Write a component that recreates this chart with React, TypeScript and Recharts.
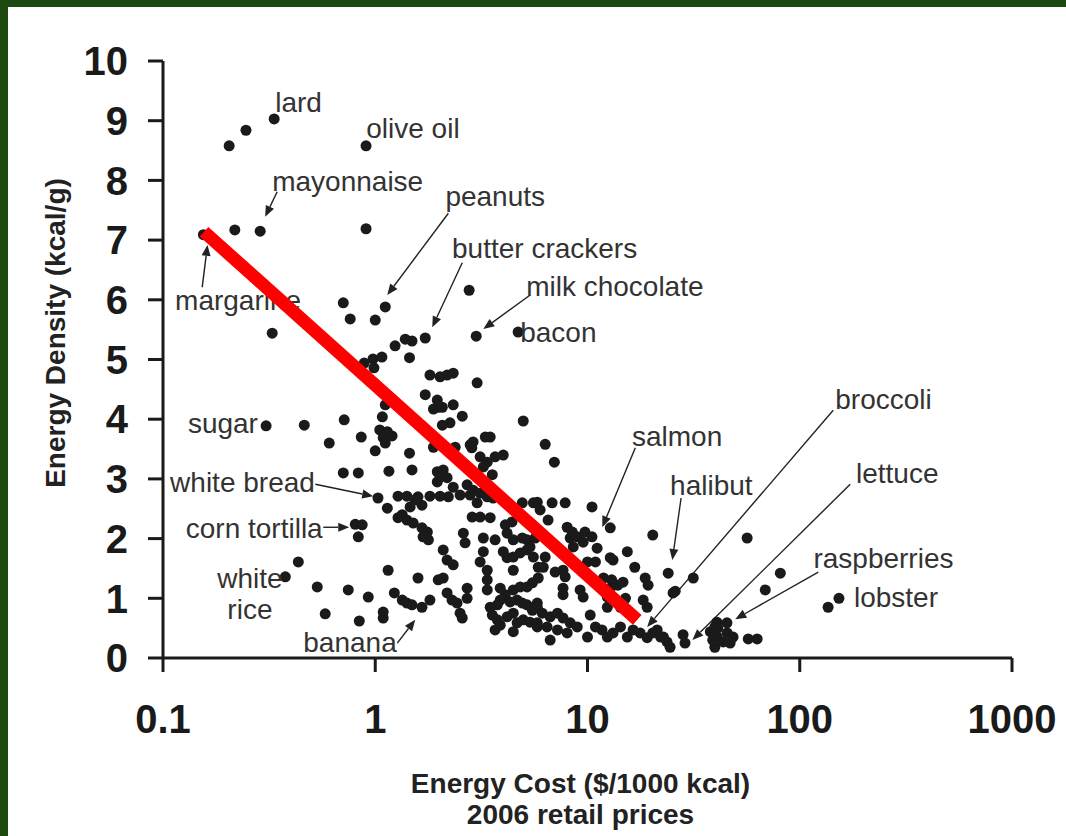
import React from 'react';
import { ScatterChart, Scatter, XAxis, YAxis, ReferenceLine } from 'recharts';

// Axis ticks
const costTicks = [0.1, 1, 10, 100, 1000];
const densityTicks = [0, 1, 2, 3, 4, 5, 6, 7, 8, 9, 10];

// Foods: [energy cost ($/1000 kcal), energy density (kcal/g)]
const fatsAndOils: [number, number][] = [
  [0.155, 7.09], [0.205, 8.58], [0.246, 8.84], [0.334, 9.03], [0.218, 7.17], [0.287, 7.15],
  [0.905, 8.58], [0.905, 7.19], [0.707, 5.95], [0.762, 5.68], [1.0, 5.66], [1.115, 5.88],
  [2.77, 6.16], [0.327, 5.44], [2.99, 5.39], [4.71, 5.46], [0.306, 3.89], [0.463, 3.9],
  [4.98, 3.97], [1.03, 2.68],
];

const snacksAndGrains: [number, number][] = [
  [1.385, 5.34], [1.49, 5.31], [1.72, 5.36], [1.24, 5.23], [1.45, 5.03], [0.887, 4.94],
  [0.976, 5.01], [1.075, 5.04], [0.986, 4.86], [1.81, 4.74], [2.02, 4.71], [2.18, 4.74],
  [2.33, 4.77], [3.02, 4.61], [1.72, 4.41], [1.96, 4.32], [1.98, 4.2], [1.88, 4.17],
  [2.07, 4.2], [2.33, 4.24], [2.57, 4.05], [2.25, 3.94], [2.07, 3.9], [0.714, 3.99],
  [1.08, 4.04], [1.115, 4.24], [0.859, 3.7], [1.05, 3.82], [1.14, 3.79], [1.2, 3.72],
  [1.09, 3.69], [1.115, 3.6], [1.0, 3.47], [1.45, 3.43], [1.88, 3.53], [2.38, 3.53],
  [2.8, 3.57], [2.89, 3.62], [2.85, 3.52], [3.3, 3.7], [3.48, 3.7], [4.01, 3.4],
  [3.67, 3.37], [3.12, 3.37], [3.37, 3.28], [3.23, 3.2], [3.56, 3.07], [0.607, 3.6],
  [0.707, 3.1], [0.832, 3.1], [1.16, 3.13], [1.49, 3.15], [1.96, 3.12], [2.09, 3.15],
  [2.02, 3.03], [1.96, 2.95], [2.18, 3.02], [2.33, 2.86], [2.71, 2.9], [2.89, 2.81],
  [2.8, 2.73], [1.28, 2.71], [1.41, 2.71], [1.59, 2.7], [1.81, 2.71], [2.02, 2.71],
  [2.21, 2.7], [2.51, 2.73], [3.12, 2.76], [3.37, 2.7], [6.32, 3.58], [6.98, 3.28],
];

const mixedFoods: [number, number][] = [
  [1.14, 2.51], [1.54, 2.65], [1.66, 2.56], [1.46, 2.53], [1.34, 2.4], [1.41, 2.31],
  [1.51, 2.26], [1.76, 2.11], [1.78, 1.98], [1.28, 2.35], [1.66, 2.18], [1.68, 2.03],
  [3.02, 2.6], [3.59, 2.68], [2.86, 2.36], [3.12, 2.36], [3.48, 2.35], [2.6, 2.09],
  [2.65, 1.93], [3.23, 2.01], [3.67, 1.98], [4.18, 2.09], [4.47, 1.98], [4.93, 2.01],
  [5.19, 1.98], [4.93, 2.6], [5.56, 2.6], [4.1, 2.23], [4.41, 2.28], [4.01, 1.78],
  [4.18, 1.68], [4.47, 1.69], [4.82, 1.76], [5.19, 1.81], [3.23, 1.78], [2.09, 1.81],
  [2.18, 1.64], [2.33, 1.56], [3.12, 1.61], [3.37, 1.47], [4.47, 1.47], [5.36, 1.86],
  [5.56, 1.69], [1.15, 1.47], [1.59, 1.34], [1.98, 1.31], [2.09, 1.34], [0.746, 1.14],
  [0.927, 1.02], [1.23, 1.09], [1.34, 0.97], [1.41, 0.92], [1.49, 0.89], [1.66, 0.85],
  [1.81, 0.97], [1.09, 0.77], [1.09, 0.67], [0.841, 0.62], [2.18, 1.09], [2.3, 0.97],
  [2.43, 0.92], [2.71, 1.0], [2.71, 1.17], [2.51, 0.75], [2.57, 0.67], [3.37, 1.31],
  [3.37, 1.14], [3.88, 1.17], [4.1, 1.06], [3.88, 0.97], [4.32, 0.94], [3.76, 0.89],
  [3.48, 0.85], [3.56, 0.72], [3.76, 0.64], [3.88, 0.55], [4.18, 0.69], [4.47, 1.14],
  [4.82, 1.19], [5.19, 1.19], [5.5, 1.26], [4.66, 0.97], [4.93, 0.92], [5.19, 0.89],
  [5.5, 0.8], [5.8, 0.92], [4.47, 0.75], [4.66, 0.59], [4.98, 0.64], [5.36, 0.6],
  [5.8, 0.52], [4.47, 0.44], [3.67, 0.47], [5.86, 1.52], [5.86, 1.34],
  [0.805, 2.24], [0.868, 2.23], [0.832, 2.03], [0.434, 1.61], [0.377, 1.36], [0.533, 1.19],
  [0.581, 0.74],
];

const produceAndProtein: [number, number][] = [
  [5.8, 2.61], [5.98, 2.48], [6.81, 2.6], [7.85, 2.6], [10.5, 2.53], [6.52, 2.31],
  [5.67, 2.01], [8.02, 2.19], [8.48, 2.11], [8.29, 2.01], [8.95, 2.03], [9.73, 2.11],
  [9.54, 1.94], [10.5, 2.03], [11.1, 1.84], [8.57, 1.86], [12.8, 2.18], [6.32, 1.69],
  [6.19, 1.52], [7.67, 1.47], [7.85, 1.36], [7.04, 1.44], [10.0, 1.61], [10.9, 1.61],
  [12.8, 1.68], [15.4, 1.78], [16.7, 1.52], [20.3, 2.06], [11.9, 1.34], [13.0, 1.31],
  [13.9, 1.22], [14.7, 1.27], [12.8, 1.17], [18.7, 1.34], [19.3, 1.22], [18.3, 0.97],
  [19.1, 0.85], [15.1, 1.0], [7.67, 1.17], [7.67, 1.06], [9.23, 1.14], [9.54, 1.02],
  [12.4, 0.85], [14.3, 0.85], [10.3, 0.72], [25.3, 1.09], [13.2, 1.64], [12.4, 1.02],
  [5.8, 0.85], [6.12, 0.75], [6.67, 0.69], [7.22, 0.75], [7.67, 0.67], [8.29, 0.59],
  [8.95, 0.52], [5.8, 0.59], [6.45, 0.52], [7.22, 0.47], [8.02, 0.42], [6.67, 0.3],
  [10.0, 0.35], [10.9, 0.52], [11.7, 0.47], [12.4, 0.35], [13.2, 0.42], [14.3, 0.52],
  [15.4, 0.35], [16.4, 0.47], [17.7, 0.42], [19.1, 0.34], [20.3, 0.42], [22.1, 0.35],
  [23.7, 0.27], [24.5, 0.18], [28.2, 0.39], [28.8, 0.25], [37.9, 0.44], [39.8, 0.52],
  [40.9, 0.35], [45.5, 0.42], [43.6, 0.27],
  [136, 0.85], [153, 1.0], [81, 1.42], [68.8, 1.14], [56.5, 2.01], [63, 0.32],
  [57.2, 0.32], [48.5, 0.35], [47, 0.25], [40.7, 0.6], [45.4, 0.59], [41.1, 0.5],
  [38.9, 0.3], [39.8, 0.18], [31.5, 1.34], [25.9, 1.12], [24, 1.42], [21.3, 0.47],
  [22.8, 0.35],
];

// Food names, anchored at the start of the text baseline
const foodLabels = [
  { name: 'lard', cost: 0.338, density: 9.15 },
  { name: 'olive oil', cost: 0.907, density: 8.71 },
  { name: 'mayonnaise', cost: 0.327, density: 7.82 },
  { name: 'peanuts', cost: 2.14, density: 7.57 },
  { name: 'butter crackers', cost: 2.3, density: 6.7 },
  { name: 'milk chocolate', cost: 5.14, density: 6.06 },
  { name: 'bacon', cost: 4.82, density: 5.29 },
  { name: 'margarine', cost: 0.114, density: 5.83 },
  { name: 'sugar', cost: 0.131, density: 3.77 },
  { name: 'white bread', cost: 0.108, density: 2.78 },
  { name: 'corn tortilla', cost: 0.128, density: 2.01 },
  { name: 'white', cost: 0.18, density: 1.17 },
  { name: 'rice', cost: 0.201, density: 0.66 },
  { name: 'banana', cost: 0.458, density: 0.1 },
  { name: 'salmon', cost: 16.2, density: 3.55 },
  { name: 'halibut', cost: 24.5, density: 2.73 },
  { name: 'broccoli', cost: 147, density: 4.17 },
  { name: 'lettuce', cost: 184, density: 2.93 },
  { name: 'raspberries', cost: 116, density: 1.51 },
  { name: 'lobster', cost: 180, density: 0.85 },
];

// Leader arrows: [cost, density] of tail and head
const labelArrows: { from: [number, number]; to: [number, number] }[] = [
  { from: [0.345, 7.81], to: [0.303, 7.39] },
  { from: [0.153, 6.21], to: [0.162, 6.92] },
  { from: [2.21, 7.45], to: [1.139, 6.08] },
  { from: [2.57, 6.62], to: [1.856, 5.54] },
  { from: [5.37, 6.08], to: [3.23, 5.51] },
  { from: [0.522, 2.91], to: [0.978, 2.71] },
  { from: [0.569, 2.19], to: [0.754, 2.19] },
  { from: [1.27, 0.25], to: [1.543, 0.64] },
  { from: [16.8, 3.52], to: [11.74, 2.19] },
  { from: [27.6, 2.68], to: [25.1, 1.64] },
  { from: [143.8, 4.15], to: [19.1, 0.52] },
  { from: [172.9, 2.91], to: [31.2, 0.3] },
  { from: [122.3, 1.44], to: [49.7, 0.65] },
];

// Trend line endpoints
const trendLine = [
  { cost: 0.156, density: 7.14 },
  { cost: 17.15, density: 0.64 },
];

const toPoints = (rows: [number, number][]) => rows.map(([cost, density]) => ({ cost, density }));
const foodPoints = [
  ...toPoints(fatsAndOils),
  ...toPoints(snacksAndGrains),
  ...toPoints(mixedFoods),
  ...toPoints(produceAndProtein),
];

const FONT = '"Liberation Sans", Arial, Helvetica, sans-serif';
const INK = '#1a1a1a';

const FoodDot = (p: any) => <circle cx={p.cx} cy={p.cy} r={5.5} fill={INK} />;

const FoodName = (p: any) => (
  <text x={p.cx} y={p.cy} fontSize={28} fill="#333" fontFamily={FONT}>
    {p.payload.name}
  </text>
);

const NoMark = () => <g />;

const ArrowShape = (p: any) => {
  const { x1, y1, x2, y2 } = p;
  const ang = Math.atan2(y2 - y1, x2 - x1);
  const len = 11;
  const half = 4.5;
  const bx = x2 - len * Math.cos(ang);
  const by = y2 - len * Math.sin(ang);
  const nx = -Math.sin(ang) * half;
  const ny = Math.cos(ang) * half;
  return (
    <g>
      <line x1={x1} y1={y1} x2={bx} y2={by} stroke="#222" strokeWidth={1.4} />
      <polygon points={`${x2},${y2} ${bx + nx},${by + ny} ${bx - nx},${by - ny}`} fill="#222" />
    </g>
  );
};

const XTitle = ({ viewBox }: any) => {
  const cx = viewBox.x + viewBox.width / 2 - 7;
  return (
    <text textAnchor="middle" fontSize={28} fontWeight={700} fill="#222" fontFamily={FONT}>
      <tspan x={cx} y={viewBox.y + 135}>Energy Cost ($/1000 kcal)</tspan>
      <tspan x={cx} y={viewBox.y + 166}>2006 retail prices</tspan>
    </text>
  );
};

const YTitle = () => (
  <text
    transform="translate(65, 333) rotate(-90)"
    textAnchor="middle"
    fontSize={28}
    fontWeight={700}
    fill="#222"
    fontFamily={FONT}
  >
    Energy Density (kcal/g)
  </text>
);

export default function App() {
  return (
    <div style={{ position: 'absolute', left: 0, top: 0, width: 1066, height: 836, background: '#1d4a0e' }}>
      <div style={{ position: 'absolute', left: 8, top: 7, width: 1058, height: 829, background: '#ffffff' }} />
      <div style={{ position: 'absolute', left: 0, top: 0 }}>
        <ScatterChart width={1066} height={836} margin={{ top: 61, right: 54, bottom: 8, left: 33 }}>
          <XAxis
            type="number"
            dataKey="cost"
            scale="log"
            domain={[0.1, 1000]}
            ticks={costTicks}
            interval={0}
            allowDataOverflow
            height={170}
            tickSize={14}
            tickMargin={33}
            axisLine={{ stroke: INK, strokeWidth: 3 }}
            tickLine={{ stroke: INK, strokeWidth: 3 }}
            tick={{ fontSize: 40, fontWeight: 700, fill: INK, fontFamily: FONT }}
            tickFormatter={(v: number) => String(v)}
            label={XTitle}
          />
          <YAxis
            type="number"
            dataKey="density"
            domain={[0, 10]}
            ticks={densityTicks}
            interval={0}
            width={130}
            tickSize={15}
            tickMargin={20}
            axisLine={{ stroke: INK, strokeWidth: 3 }}
            tickLine={{ stroke: INK, strokeWidth: 3 }}
            tick={{ fontSize: 40, fontWeight: 700, fill: INK, fontFamily: FONT }}
            label={YTitle}
          />
          <Scatter data={foodPoints} shape={FoodDot} isAnimationActive={false} />
          <Scatter data={foodLabels} shape={FoodName} isAnimationActive={false} />
          {labelArrows.map((a, i) => (
            <ReferenceLine
              key={i}
              segment={[
                { x: a.from[0], y: a.from[1] },
                { x: a.to[0], y: a.to[1] },
              ]}
              ifOverflow="visible"
              shape={ArrowShape}
            />
          ))}
          <Scatter
            data={trendLine}
            shape={NoMark}
            line={{ stroke: '#ff0000', strokeWidth: 13 }}
            lineType="joint"
            isAnimationActive={false}
          />
        </ScatterChart>
      </div>
    </div>
  );
}
